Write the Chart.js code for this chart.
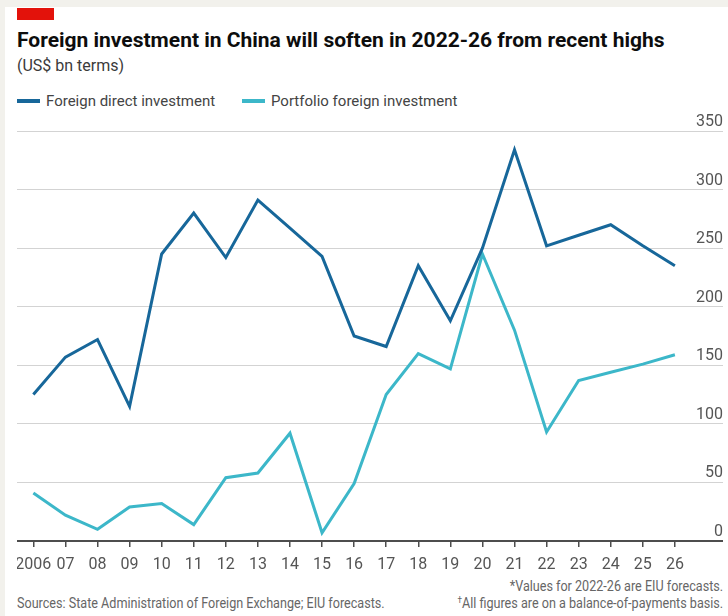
<!DOCTYPE html>
<html>
<head>
<meta charset="utf-8">
<script src="https://cdn.jsdelivr.net/npm/chart.js@4/dist/chart.umd.min.js"></script>
<style>
  html, body { margin: 0; padding: 0; }
  body {
    width: 728px; height: 616px; position: relative; overflow: hidden;
    background: #f2f1ec;
    font-family: "Roboto", sans-serif;
  }
  #panel { position: absolute; left: 5px; top: 7px; right: 0; bottom: 0; background: #ffffff; }
  #redbar { position: absolute; left: 17px; top: 8px; width: 37px; height: 12px; background: #e3120b; }
  #title {
    position: absolute; left: 17px; top: 28px; line-height: 24px;
    font-size: 21px; font-weight: bold; color: #0d0d0d; white-space: nowrap;
  }
  #subtitle {
    position: absolute; left: 17px; top: 57px; line-height: 18px;
    font-size: 16px; color: #3a3a3a; white-space: nowrap;
  }
  .swatch { position: absolute; top: 99px; width: 23px; height: 4px; }
  .legtext { position: absolute; top: 92px; line-height: 18px; font-size: 15px; color: #444; white-space: nowrap; }
  #chartbox { position: absolute; left: 17px; top: 88px; width: 706px; height: 489px; }
  .note {
    position: absolute; line-height: 17px; font-size: 14px; color: #666; white-space: nowrap;
    transform: scaleX(0.9);
  }
  #source { left: 17px; top: 595px; transform-origin: left center; }
  #note1 { right: 5px; top: 578px; transform-origin: right center; }
  #note2 { right: 5px; top: 595px; transform-origin: right center; }
  sup { font-size: 9px; vertical-align: 5px; line-height: 0; }
</style>
</head>
<body>
<div id="panel"></div>
<div id="redbar"></div>
<div id="title">Foreign investment in China will soften in 2022-26 from recent highs</div>
<div id="subtitle">(US$ bn terms)</div>
<div class="swatch" id="sw1" style="left:17px"></div>
<div class="legtext" id="lt1" style="left:46px"></div>
<div class="swatch" id="sw2" style="left:242px"></div>
<div class="legtext" id="lt2" style="left:271px"></div>
<div id="chartbox"><canvas id="chart"></canvas></div>
<div class="note" id="source">Sources: State Administration of Foreign Exchange; EIU forecasts.</div>
<div class="note" id="note1">*Values for 2022-26 are EIU forecasts.</div>
<div class="note" id="note2"><sup>†</sup>All figures are on a balance-of-payments basis.</div>

<script>
// Years on the horizontal axis
const years = ['2006', '07', '08', '09', '10', '11', '12', '13', '14', '15', '16',
               '17', '18', '19', '20', '21', '22', '23', '24', '25', '26'];

// US$ bn, balance-of-payments basis; 2022-26 are forecasts
const foreignDirect = [125, 157, 172, 115, 245, 280, 242, 291, 267, 243, 175,
                       166, 235, 188, 250, 334, 252, 261, 270, 252, 235];
const portfolio = [41, 22, 10, 29, 32, 14, 54, 58, 92, 7, 49,
                   125, 160, 147, 245, 180, 93, 137, 144, 151, 159];

// Value axis ticks
const yTicks = [0, 50, 100, 150, 200, 250, 300, 350];

const FONT = '"Roboto", sans-serif';
const toPoints = arr => arr.map((v, i) => ({ x: i, y: v }));

const chart = new Chart(document.getElementById('chart'), {
  type: 'line',
  data: {
    datasets: [
      {
        label: 'Foreign direct investment',
        data: toPoints(foreignDirect),
        borderColor: '#17679a',
        backgroundColor: '#17679a',
        borderWidth: 3,
        pointRadius: 0,
        tension: 0,
        borderJoinStyle: 'miter'
      },
      {
        label: 'Portfolio foreign investment',
        data: toPoints(portfolio),
        borderColor: '#3cb7c9',
        backgroundColor: '#3cb7c9',
        borderWidth: 3,
        pointRadius: 0,
        tension: 0,
        borderJoinStyle: 'miter'
      }
    ]
  },
  options: {
    responsive: true,
    maintainAspectRatio: false,
    animation: false,
    layout: { padding: { top: 43, left: 0, right: 0, bottom: 0 } },
    plugins: {
      tooltip: { enabled: false },
      legend: { display: false }
    },
    scales: {
      x: {
        type: 'linear',
        min: -0.51,
        max: 21.5,
        afterBuildTicks: axis => { axis.ticks = years.map((_, i) => ({ value: i })); },
        afterFit: axis => {
          axis.paddingLeft = 0;
          axis.paddingRight = 0;
          axis.height = 36;
        },
        grid: { drawOnChartArea: false, drawTicks: true, tickLength: 6, color: '#4d4d4d', lineWidth: 1.5 },
        border: { display: true, color: '#4d4d4d', width: 2 },
        ticks: {
          autoSkip: false,
          maxRotation: 0,
          padding: 8,
          color: '#555',
          font: { family: FONT, size: 16 },
          callback: v => years[v]
        }
      },
      y: {
        position: 'right',
        min: 0,
        max: 350,
        afterBuildTicks: axis => { axis.ticks = yTicks.map(v => ({ value: v })); },
        afterFit: axis => { axis.paddingTop = 0; axis.paddingBottom = 0; },
        grid: {
          drawTicks: false,
          color: ctx => (ctx.tick && ctx.tick.value === 0 ? 'rgba(0,0,0,0)' : '#d3d3d3'),
          lineWidth: 1
        },
        border: { display: false },
        ticks: {
          mirror: true,
          padding: 0,
          labelOffset: -9,
          color: '#555',
          font: { family: FONT, size: 16 }
        }
      }
    }
  }
});

// Legend entries take their colours and names from the datasets
chart.data.datasets.forEach((ds, i) => {
  document.getElementById('sw' + (i + 1)).style.background = ds.borderColor;
  document.getElementById('lt' + (i + 1)).textContent = ds.label;
});
</script>
</body>
</html>
